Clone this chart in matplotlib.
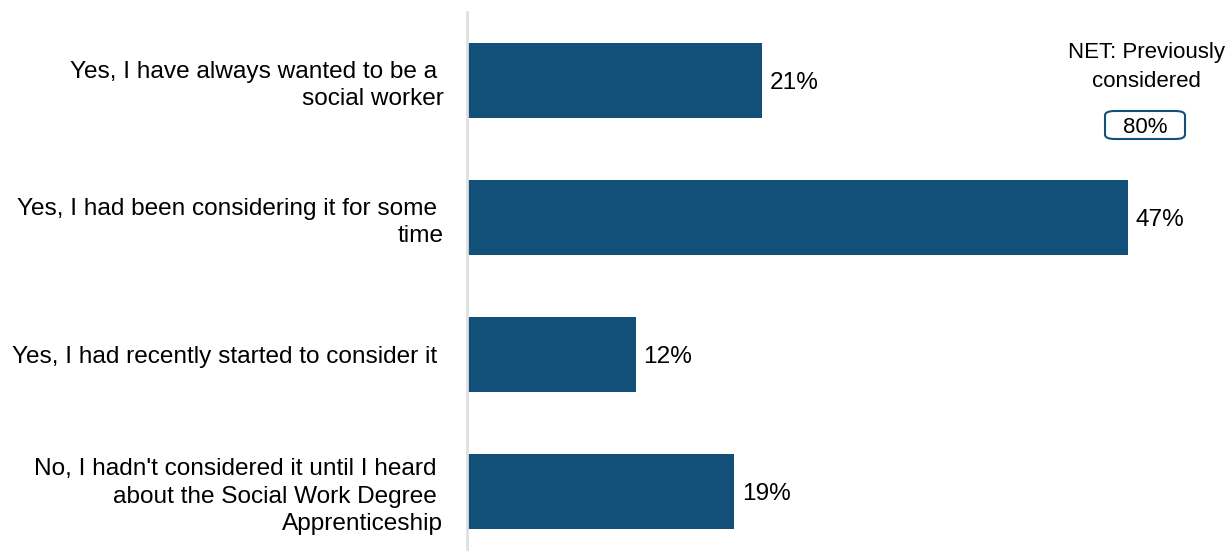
import matplotlib.pyplot as plt
from matplotlib.patches import FancyBboxPatch

plt.rcParams['font.family'] = ['Liberation Sans', 'DejaVu Sans']

# Responses and shares (%)
categories = [
    "Yes, I have always wanted to be a \nsocial worker",
    "Yes, I had been considering it for some \ntime",
    "Yes, I had recently started to consider it ",
    "No, I hadn't considered it until I heard \nabout the Social Work Degree \nApprenticeship",
]
values = [21, 47, 12, 19]
net_label = "NET: Previously\nconsidered"
net_value = sum(values[:3])

bar_color = '#12507a'

fig = plt.figure(figsize=(12.27, 5.51), dpi=100)
W, H = 1227, 551
ax = fig.add_axes([467 / W, 0, 1 - 467 / W, 1 - 12 / H])

pos = list(range(len(values)))
ax.barh(pos, values, height=0.547, color=bar_color)
ax.set_xlim(0, 760 / 14.06)
ax.set_ylim(3.434, -0.5)

for p, v in zip(pos, values):
    ax.text(v + 0.55, p, f"{v}%", va='center_baseline', ha='left', fontsize=17.6, color='black')

ax.set_yticks(pos)
ax.set_yticklabels(categories, fontsize=17.6, ha='right', linespacing=1.3)
ax.tick_params(axis='y', length=0, pad=17)
ax.set_xticks([])
for side in ['top', 'right', 'bottom']:
    ax.spines[side].set_visible(False)
ax.spines['left'].set_color('#e0e0e0')
ax.spines['left'].set_linewidth(2)

# NET summary box on the right
fig.text(1146 / W, 1 - 67 / H, net_label, ha='center', va='center',
         fontsize=16, linespacing=1.45)
box = FancyBboxPatch((1105 / W, 1 - 139 / H), 80 / W, 28 / H,
                     boxstyle='round,pad=0,rounding_size=0.008',
                     transform=fig.transFigure, facecolor='white',
                     edgecolor=bar_color, linewidth=1.5)
fig.add_artist(box)
fig.text(1145 / W, 1 - 125 / H, f"{net_value}%", ha='center', va='center_baseline', fontsize=16)

fig.savefig('out.png', dpi=100)
